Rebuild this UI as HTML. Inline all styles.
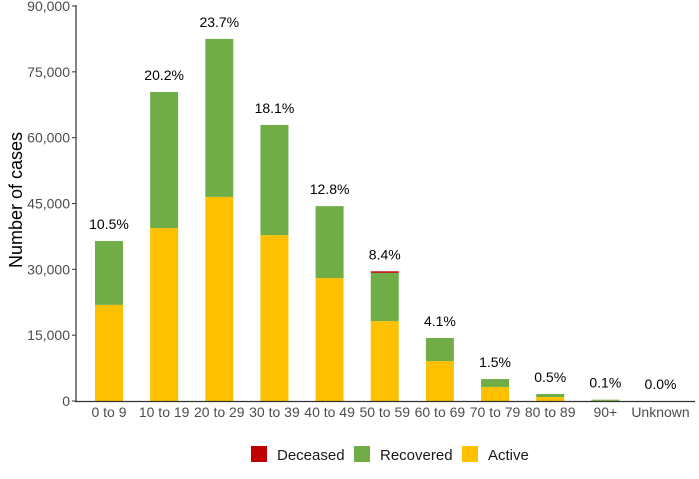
<!DOCTYPE html>
<html><head><meta charset="utf-8"><style>
body{margin:0;background:#fff;}
svg text{font-family:"Liberation Sans",Arial,sans-serif;}
</style></head><body>
<svg id="chart" width="699" height="474">
<g id="plot"></g>
<g id="legend">
<rect x="251" y="446" width="16" height="16" fill="#c00000"/>
<text x="277" y="460" font-size="15" fill="#1a1a1a">Deceased</text>
<rect x="354" y="446" width="16" height="16" fill="#70ad47"/>
<text x="380" y="460" font-size="15" fill="#1a1a1a">Recovered</text>
<rect x="462" y="446" width="16" height="16" fill="#ffc000"/>
<text x="488" y="460" font-size="15" fill="#1a1a1a">Active</text>
</g>
<text transform="translate(22,200) rotate(-90)" text-anchor="middle" font-size="18" fill="#000">Number of cases</text>
</svg>
<script>
const categories=["0 to 9","10 to 19","20 to 29","30 to 39","40 to 49","50 to 59","60 to 69","70 to 79","80 to 89","90+","Unknown"];
const active=[21900,39400,46500,37800,28000,18200,9100,3200,900,50,0];
const recovered=[14550,31000,36000,25100,16400,11000,5250,1800,700,250,0];
const deceased=[0,0,0,0,0,350,0,0,0,0,0];
const pctLabels=["10.5%","20.2%","23.7%","18.1%","12.8%","8.4%","4.1%","1.5%","0.5%","0.1%","0.0%"];
const yTicks=[0,15000,30000,45000,60000,75000,90000];
const yTickLabels=["0","15,000","30,000","45,000","60,000","75,000","90,000"];

const NS="http://www.w3.org/2000/svg";
const g=document.getElementById('plot');
const y0=401,yTop=6,yMax=90000;
function y(v){return y0-(v/yMax)*(y0-yTop);}
function xc(i){return 109+i*55.15;}
const bw=28;
function mk(tag,attrs,parent){const e=document.createElementNS(NS,tag);for(const k in attrs)e.setAttribute(k,attrs[k]);(parent||g).appendChild(e);return e;}

yTicks.forEach((t,i)=>{
  const tk=mk('line',{x1:72,x2:76,y1:y(t),y2:y(t),stroke:'#333','stroke-width':1});
  
  
  const tx=mk('text',{x:70,y:y(t)+5,'text-anchor':'end','font-size':14,fill:'#4d4d4d'});
  tx.textContent=yTickLabels[i];
  
  
});

categories.forEach((c,i)=>{
  const x=xc(i)-bw/2;
  const a=active[i],r=recovered[i],d=deceased[i];
  if(a>0){const b=mk('rect',{x:x,y:y(a),width:bw,height:y(0)-y(a),fill:'#ffc000'});
    
    }
  if(r>0){const b=mk('rect',{x:x,y:y(a+r),width:bw,height:y(a)-y(a+r),fill:'#70ad47'});
    
    }
  if(d>0){const b=mk('rect',{x:x,y:y(a+r+d),width:bw,height:y(a+r)-y(a+r+d),fill:'#c00000'});
    
    }
  const pl=mk('text',{x:xc(i),y:y(a+r+d)-12,'text-anchor':'middle','font-size':14,fill:'#000'});
  pl.textContent=pctLabels[i];
  
  
  const cl=mk('text',{x:xc(i),y:417,'text-anchor':'middle','font-size':14,fill:'#4d4d4d'});
  cl.textContent=c;
  
  
});

const ya=mk('line',{x1:76,x2:76,y1:5,y2:402,stroke:'#333','stroke-width':1.2});


const xa=mk('line',{x1:75,x2:695,y1:401.5,y2:401.5,stroke:'#333','stroke-width':1.2});


</script>
</body></html>
